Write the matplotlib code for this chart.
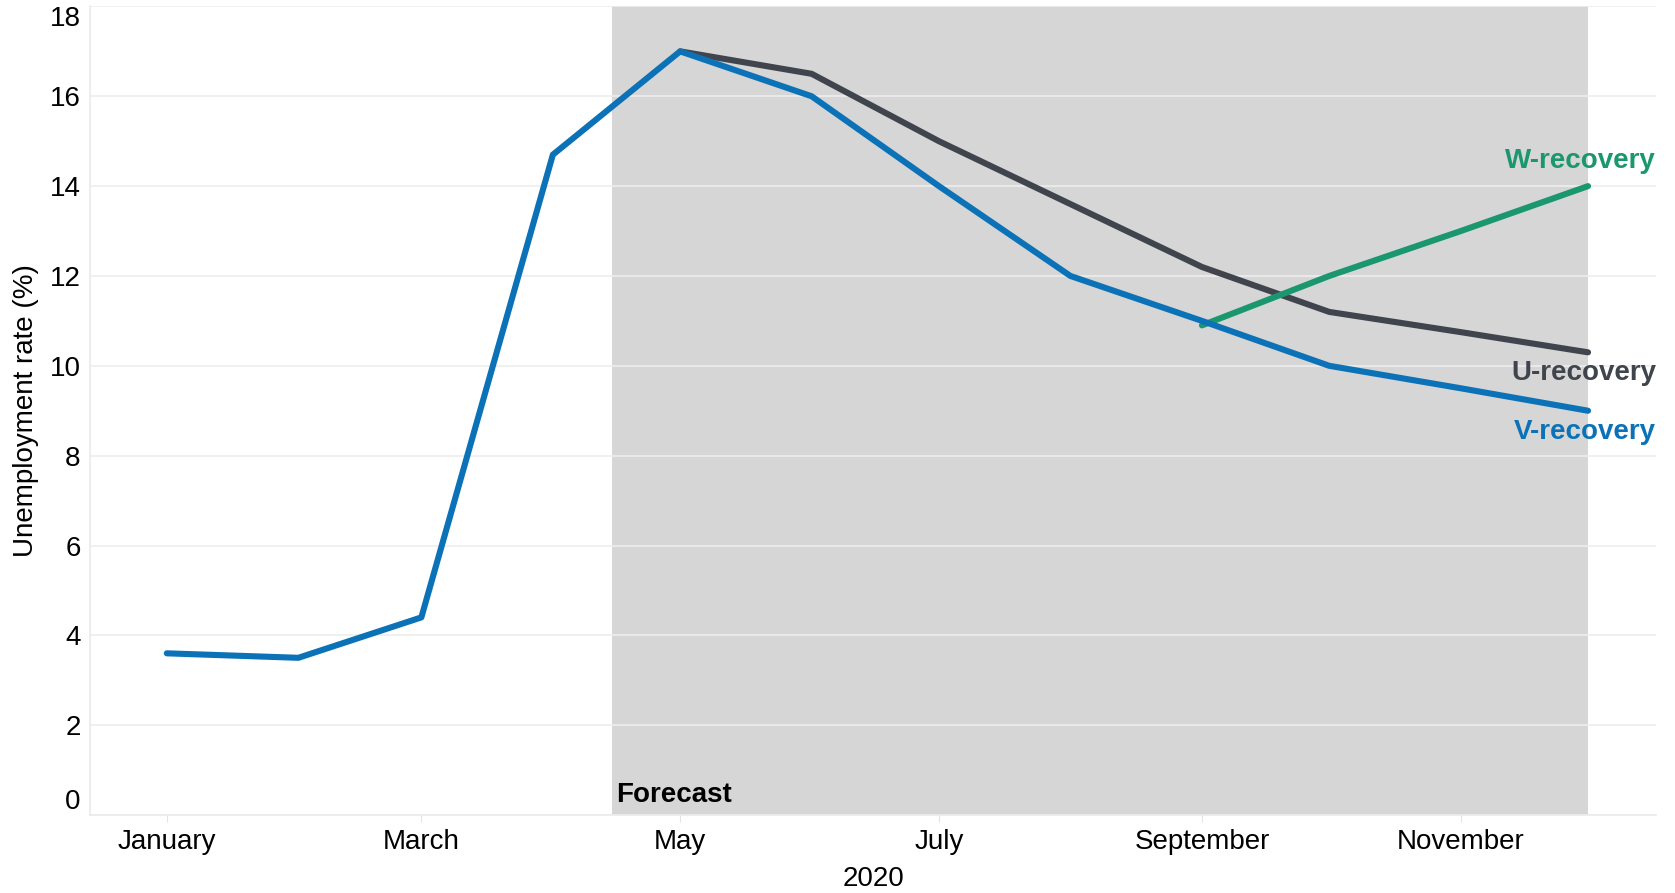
"""
Unemployment rate scenarios for 2020: V, U and W shaped recoveries.
"""
import datetime

import matplotlib
matplotlib.use("Agg")
import matplotlib.pyplot as plt
import matplotlib.dates as mdates

# values on the first day of each month of 2020
v_month = [1, 2, 3, 4, 5, 6, 7, 8, 9, 10, 11, 12]
v_rate = [3.6, 3.5, 4.4, 14.7, 17.0, 16.0, 14.0, 12.0, 11.0, 10.0, 9.5, 9.0]

u_month = [5, 6, 7, 8, 9, 10, 11, 12]
u_rate = [17.0, 16.5, 15.0, 13.6, 12.2, 11.2, 10.75, 10.3]

w_month = [9, 10, 11, 12]
w_rate = [10.9, 12.0, 13.0, 14.0]

forecast_start = datetime.datetime(2020, 4, 15)
forecast_end = datetime.datetime(2020, 12, 1)

BLUE = "#0C72B7"
GREY = "#40454D"
GREEN = "#1B9770"
SHADE = "#D6D6D6"
FS = 20


def to_dates(months):
    return [datetime.datetime(2020, m, 1) for m in months]


plt.rcParams["font.family"] = ["Liberation Sans", "DejaVu Sans"]

fig = plt.figure(figsize=(16.75, 8.93), dpi=100)
ax = fig.add_axes([0.054, 0.0873, 0.9346, 0.9055])

ax.axvspan(forecast_start, forecast_end, color=SHADE, lw=0, zorder=0.2)
ax.grid(axis="y", color="#EDEDED", lw=1.2, zorder=0.5)
ax.set_axisbelow(True)

ax.plot(to_dates(u_month), u_rate, color=GREY, lw=4.4,
        solid_capstyle="round", zorder=2)
ax.plot(to_dates(w_month), w_rate, color=GREEN, lw=4.4,
        solid_capstyle="round", zorder=2)
ax.plot(to_dates(v_month), v_rate, color=BLUE, lw=4.4,
        solid_capstyle="round", zorder=3)

ax.set_xlim(datetime.datetime(2019, 12, 14), datetime.datetime(2020, 12, 17))
ax.set_ylim(0, 18)

ax.xaxis.set_major_locator(mdates.MonthLocator(bymonth=[1, 3, 5, 7, 9, 11]))
ax.xaxis.set_major_formatter(mdates.DateFormatter("%B"))
ax.set_yticks(range(0, 19, 2))
ax.tick_params(axis="x", labelsize=FS, length=5, color="#E4E4E4", pad=5)
ax.tick_params(axis="y", labelsize=FS, length=0, pad=7)

ylabels = ax.get_yticklabels()
ylabels[0].set_verticalalignment("bottom")
ylabels[-1].set_verticalalignment("top")

for side in ["top", "right"]:
    ax.spines[side].set_visible(False)
for side in ["left", "bottom"]:
    ax.spines[side].set_color("#EAEAEA")
    ax.spines[side].set_linewidth(1.2)

ax.set_xlabel("2020", fontsize=FS, labelpad=8)
ax.set_ylabel("Unemployment rate (%)", fontsize=FS, labelpad=8)

ax.text(forecast_start + datetime.timedelta(days=1), 0.15, "Forecast",
        fontsize=FS, fontweight="bold", ha="left", va="bottom")

xr = ax.get_xlim()[1]
ax.text(xr, w_rate[-1] + 0.55, "W-recovery", color=GREEN, fontsize=FS,
        fontweight="bold", ha="right", va="center")
ax.text(xr, u_rate[-1] - 0.47, "U-recovery", color=GREY, fontsize=FS,
        fontweight="bold", ha="right", va="center")
ax.text(xr, v_rate[-1] - 0.48, "V-recovery", color=BLUE, fontsize=FS,
        fontweight="bold", ha="right", va="center")

fig.savefig("out.png", dpi=100)
